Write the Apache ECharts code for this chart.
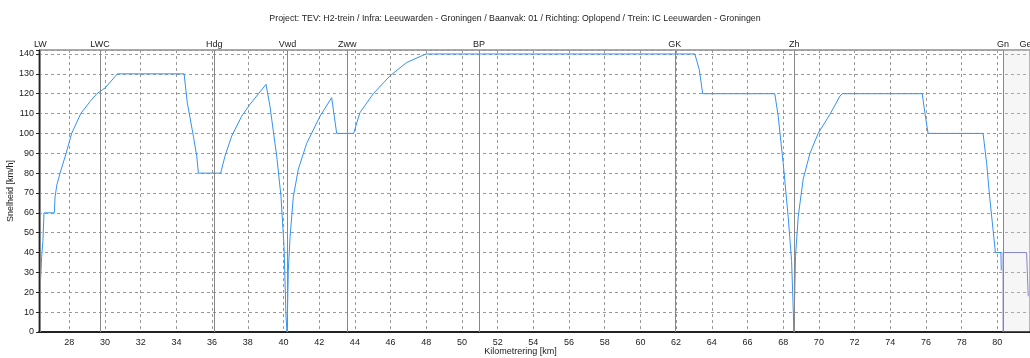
<!DOCTYPE html>
<html>
<head>
<meta charset="utf-8">
<script src="https://cdn.jsdelivr.net/npm/echarts@6/dist/echarts.min.js"></script>
<style>
  html, body { margin: 0; padding: 0; background: #fff; }
  #chart { width: 1030px; height: 358px; }
</style>
</head>
<body>
<div id="chart"></div>
<script>
// snelheidsprofiel (km, km/h)
var kmPoints = [26.38, 26.45, 26.52, 26.58, 27.16, 27.20, 27.30, 27.48, 27.82, 28.13, 28.64, 29.16, 29.54, 30.02, 30.69,
    34.43, 34.61, 34.95, 35.14, 35.23, 36.48, 36.72, 37.10, 37.66, 38.12, 39.02,
    39.24, 39.62, 39.86, 40.03, 40.14, 40.20, 40.27, 40.37, 40.55, 40.83, 41.30, 42.05, 42.70,
    42.98, 43.93, 44.28, 45.03, 45.97, 46.90, 47.98,
    63.05, 63.30, 63.49, 67.53, 67.72, 68.00, 68.28, 68.47, 68.55, 68.60,
    68.69, 68.84, 69.12, 69.50, 69.96, 70.62, 71.18, 71.32,
    75.79, 75.94, 76.12, 79.20, 79.40, 79.57, 79.76, 79.89, 80.20, 80.22];
var speedPoints = [25, 38, 46, 60, 60, 68, 74, 80, 90, 100, 110, 116, 120, 123, 130,
    130, 115.5, 98.6, 88.5, 80, 80, 88.5, 98.7, 108.7, 114.6, 124.7,
    113.8, 88.5, 68.3, 43, 8, 0, 31, 48, 68, 82, 95, 108.7, 118,
    100, 100, 110.4, 120, 129, 135.7, 140,
    140, 132, 120, 120, 108.7, 85, 58, 36, 15, 0,
    38, 58, 77, 90, 100, 109.6, 118.8, 120,
    120, 110.4, 100, 100, 85, 68, 51.5, 40, 40, 31];

// volgend baanvak (na Gn)
var kmNext = [80.32, 80.32, 81.64, 81.73];
var speedNext = [0, 40, 40, 18];

// dienstregelpunten
var stationNames = ['LW', 'LWC', 'Hdg', 'Vwd', 'Zww', 'BP', 'GK', 'Zh', 'Gn', 'Ge'];
var stationKm = [26.38, 29.72, 36.12, 40.23, 43.57, 50.96, 61.93, 68.62, 80.32, 81.58];

var kmTicks = [28, 30, 32, 34, 36, 38, 40, 42, 44, 46, 48, 50, 52, 54, 56, 58, 60, 62, 64, 66, 68, 70, 72, 74, 76, 78, 80];

var profile = [];
for (var i = 0; i < kmPoints.length; i++) {
    profile.push([kmPoints[i], speedPoints[i]]);
}
var nextProfile = [];
for (var j = 0; j < kmNext.length; j++) {
    nextProfile.push([kmNext[j], speedNext[j]]);
}

var stationLines = [];
for (var k = 0; k < stationNames.length; k++) {
    stationLines.push({
        xAxis: stationKm[k],
        label: { formatter: stationNames[k] },
        lineStyle: { color: stationNames[k] == 'Ge' ? 'rgba(0,0,0,0)' : '#888' }
    });
}

var chart = echarts.init(document.getElementById('chart'), null, { renderer: 'canvas' });

var option = {
    animation: false,
    backgroundColor: '#fff',
    textStyle: { fontFamily: 'Liberation Sans, Arial, sans-serif' },
    title: {
        text: 'Project: TEV: H2-trein / Infra: Leeuwarden - Groningen / Baanvak: 01 / Richting: Oplopend / Trein: IC Leeuwarden - Groningen',
        left: 'center',
        top: 9,
        textStyle: { fontSize: 8.8, fontWeight: 'normal', color: '#222', fontFamily: 'Liberation Sans, Arial, sans-serif' }
    },
    grid: {
        left: 39,
        right: 0,
        top: 50,
        bottom: 26,
        outerBoundsMode: 'none',
        containLabel: false,
        show: true,
        borderColor: '#555',
        borderWidth: 1,
        backgroundColor: '#fff'
    },
    xAxis: {
        type: 'value',
        min: 26.3,
        max: 81.83,
        name: 'Kilometrering [km]',
        nameLocation: 'middle',
        nameGap: 15,
        nameMoveOverlap: false,
        nameTextStyle: { fontSize: 9, color: '#222', padding: [0, 28, 0, 0] },
        axisLine: { show: true, onZero: false, lineStyle: { color: '#222', width: 2, type: [3, 1] } },
        axisTick: { show: false, customValues: kmTicks },
        axisLabel: { customValues: kmTicks, fontSize: 9, color: '#222', margin: 6 },
        splitLine: { show: true, lineStyle: { color: '#999', type: [3, 3], width: 1 } }
    },
    yAxis: {
        type: 'value',
        min: 0,
        max: 142,
        interval: 10,
        name: 'Snelheid [km/h]',
        nameLocation: 'middle',
        nameGap: 24,
        nameMoveOverlap: false,
        nameTextStyle: { fontSize: 9, color: '#222' },
        axisLine: { show: true, lineStyle: { color: '#222', width: 1 } },
        axisTick: { show: true, length: 3, lineStyle: { color: '#222' } },
        axisLabel: {
            fontSize: 9,
            color: '#222',
            margin: 5,
            formatter: function (v) { return v % 10 == 0 ? v : ''; }
        },
        splitLine: { show: true, lineStyle: { color: '#999', type: [3, 3], width: 1 } }
    },
    series: [
        {
            name: 'Snelheid',
            type: 'line',
            data: profile,
            showSymbol: false,
            lineStyle: { color: '#3393f0', width: 1 },
            itemStyle: { color: '#3393f0' },
            markLine: {
                silent: true,
                symbol: 'none',
                animation: false,
                lineStyle: { color: '#888', type: 'solid', width: 1 },
                label: { position: 'end', distance: 1, fontSize: 9, color: '#222' },
                data: stationLines
            },
            markArea: {
                silent: true,
                itemStyle: { color: 'rgba(220,220,225,0.25)' },
                data: [[{ xAxis: 80.32 }, { xAxis: 81.83 }]]
            }
        },
        {
            name: 'Volgend',
            type: 'line',
            data: nextProfile,
            showSymbol: false,
            lineStyle: { color: '#8585c8', width: 1 },
            itemStyle: { color: '#8585c8' }
        }
    ]
};

chart.setOption(option);
</script>
</body>
</html>
